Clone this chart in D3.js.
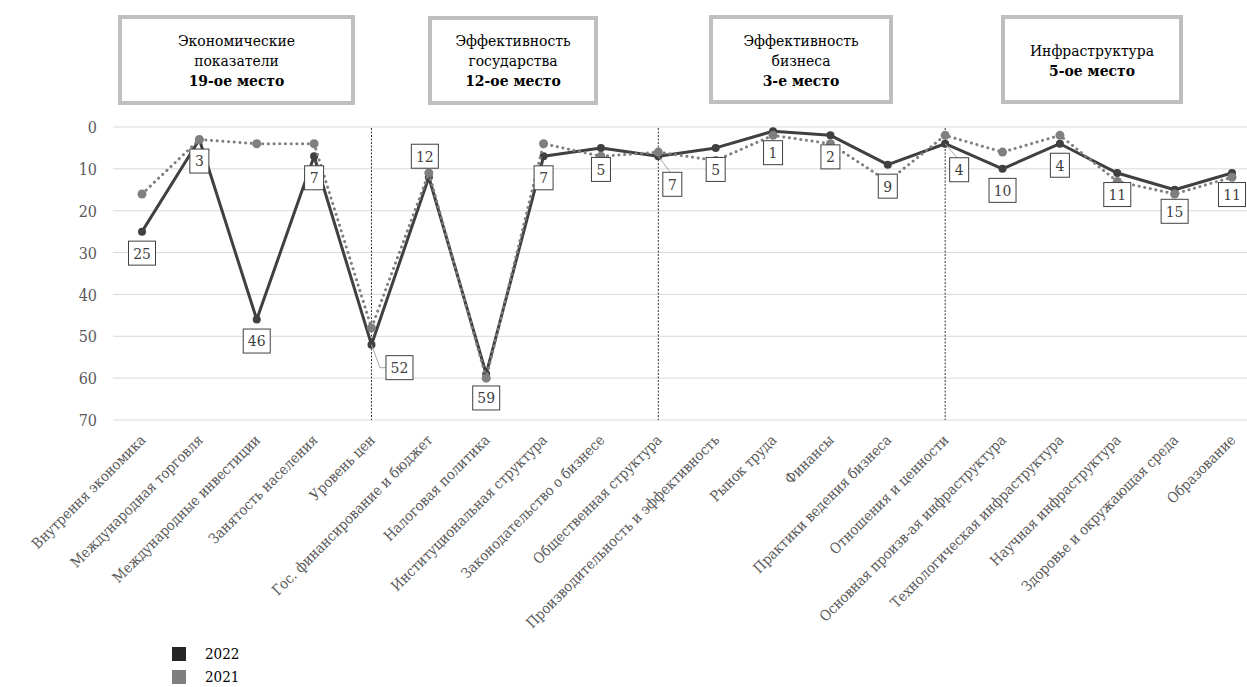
<!DOCTYPE html>
<html><head><meta charset="utf-8">
<script src="https://cdn.jsdelivr.net/npm/d3@7"></script>
<style>html,body{margin:0;padding:0;background:#fff}svg{display:block}
svg text{font-family:"DejaVu Serif Condensed","DejaVu Serif",serif;font-stretch:condensed;}</style>
</head><body>
<svg id="c" width="1247" height="687"></svg>
<script>
const categories = ["Внутрення экономика","Международная торговля","Международные инвестиции","Занятость населения","Уровень цен","Гос. финансирование и бюджет","Налоговая политика","Институциональная структура","Законодательство о бизнесе","Общественная структура","Производительность и эффективность","Рынок труда","Финансы","Практики ведения бизнеса","Отношения и ценности","Основная произв-ая инфраструктура","Технологическая инфраструктура","Научная инфраструктура","Здоровье и окружающая среда","Образование"];
const values2022 = [25,3,46,7,52,12,59,7,5,7,5,1,2,9,4,10,4,11,15,11];
const values2021 = [16,3,4,4,48,11,60,4,7,6,8,2,4,13,2,6,2,13,16,12];
const yTicks = [0,10,20,30,40,50,60,70];
const groupNames = [["Экономические","показатели"],["Эффективность","государства"],["Эффективность","бизнеса"],["Инфраструктура"]];
const groupRanks = ["19-ое место","12-ое место","3-е место","5-ое место"];
const groupDividers = ["Уровень цен","Общественная структура","Отношения и ценности"];
const seriesNames = ["2022","2021"];

const svg = d3.select("#c");
const x = d3.scalePoint().domain(categories).range([142,1232]);
const y = d3.scaleLinear().domain([0,70]).range([127,420]);

svg.append("g").selectAll("line").data(yTicks).join("line")
  .attr("x1",113).attr("x2",1247).attr("y1",d=>y(d)).attr("y2",d=>y(d))
  .attr("stroke","#d9d9d9").attr("stroke-width",1);

const yAxis = svg.append("g").attr("transform","translate(97,0)")
  .call(d3.axisLeft(y).tickValues(yTicks).tickSize(0).tickPadding(0));
yAxis.attr("font-family",null);
yAxis.select(".domain").remove();
yAxis.selectAll("text").attr("font-size",16).attr("fill","#595959").attr("dy","0.35em");

const xAxis = svg.append("g").attr("transform","translate(0,441)")
  .call(d3.axisBottom(x).tickSize(0).tickPadding(0));
xAxis.attr("font-family",null);
xAxis.select(".domain").remove();
xAxis.selectAll("text").attr("font-size",14.5).attr("fill","#595959")
  .attr("text-anchor","end").attr("dy",0).attr("y",0)
  .attr("transform","translate(4,0) rotate(-45)");

svg.append("g").selectAll("line").data(groupDividers).join("line")
  .attr("x1",d=>x(d)).attr("x2",d=>x(d)).attr("y1",128).attr("y2",420)
  .attr("stroke","#000").attr("stroke-width",0.8).attr("stroke-dasharray","2,1.5");

const line = d3.line().x((d,i)=>x(categories[i])).y(d=>y(d));

svg.append("path").datum(values2022).attr("d",line).attr("fill","none")
  .attr("stroke","#404040").attr("stroke-width",3).attr("stroke-linejoin","round");
svg.append("g").selectAll("circle").data(values2022).join("circle")
  .attr("cx",(d,i)=>x(categories[i])).attr("cy",d=>y(d)).attr("r",4).attr("fill","#404040");

svg.append("path").datum(values2021).attr("d",line).attr("fill","none")
  .attr("stroke","#7f7f7f").attr("stroke-width",3).attr("stroke-linecap","round")
  .attr("stroke-dasharray","0.1 5.6");
svg.append("g").selectAll("circle").data(values2021).join("circle")
  .attr("cx",(d,i)=>x(categories[i])).attr("cy",d=>y(d)).attr("r",4.5).attr("fill","#7f7f7f");

const place = {4:[28,23,"elbow"],5:[-4,-21],6:[0,24],9:[14,28,"top"],14:[14,26,"top"]};
const lg = svg.append("g");
values2022.forEach((v,i)=>{
  const px = x(categories[i]), py = y(v);
  const p = place[i] || [0,21.5];
  const cx = px + p[0], cy = py + p[1];
  const w = String(v).length > 1 ? 27 : 19, h = 24;
  if (p[2]==="elbow") {
    lg.append("polyline").attr("points",`${px},${py} ${cx-w/2-6},${cy} ${cx-w/2},${cy}`)
      .attr("fill","none").attr("stroke","#a6a6a6").attr("stroke-width",1);
  } else if (p[2]==="top") {
    lg.append("line").attr("x1",px).attr("y1",py).attr("x2",cx-2).attr("y2",cy-h/2)
      .attr("stroke","#a6a6a6").attr("stroke-width",1);
  }
  lg.append("rect").attr("x",cx-w/2).attr("y",cy-h/2).attr("width",w).attr("height",h)
    .attr("fill","#fff").attr("stroke","#404040").attr("stroke-width",1);
  lg.append("text").attr("x",cx).attr("y",cy).attr("dy","0.35em").attr("text-anchor","middle")
    .attr("font-size",15.5).attr("fill","#404040").text(v);
});

const boxes = [[120,17,233,86],[430,18,166,85],[711,17,180,85],[1003,17,178,85]];
groupNames.forEach((names,i)=>{
  const b = boxes[i];
  const g = svg.append("g");
  g.append("rect").attr("x",b[0]).attr("y",b[1]).attr("width",b[2]).attr("height",b[3])
    .attr("fill","#fff").attr("stroke","#bfbfbf").attr("stroke-width",4);
  const lines = names.map(t=>({t,bold:false})).concat([{t:groupRanks[i],bold:true}]);
  const cxm = b[0]+b[2]/2, cym = 61, lh = 20;
  lines.forEach((l,j)=>{
    g.append("text").attr("x",cxm).attr("y",cym + (j-(lines.length-1)/2)*lh).attr("dy","0.35em")
      .attr("text-anchor","middle").attr("font-size",15.5)
      .attr("font-weight",l.bold?"bold":"normal").attr("fill","#000").text(l.t);
  });
});

const legColors = ["#262626","#7f7f7f"];
seriesNames.forEach((s,i)=>{
  svg.append("rect").attr("x",172).attr("y",647+i*23).attr("width",14).attr("height",14).attr("fill",legColors[i]);
  svg.append("text").attr("x",205).attr("y",654+i*23).attr("dy","0.35em")
    .attr("font-size",15).attr("fill","#000").text(s);
});
</script>
</body></html>
